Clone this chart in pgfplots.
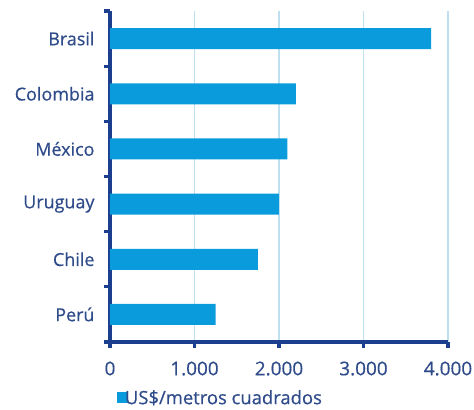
\documentclass[border=0pt]{standalone}
\usepackage{fontspec}
\setmainfont{Open Sans}[FakeBold=0.5, UprightFeatures={FakeBold=0.5}]
\usepackage{pgfplots}
\pgfplotsset{compat=1.18}
\definecolor{barblue}{HTML}{0A9BDC}
\definecolor{navy}{HTML}{1B3E8F}
\definecolor{txt}{HTML}{2F4B8A}
\definecolor{gridblue}{HTML}{BFE0EE}
\begin{document}
\begin{tikzpicture}
\useasboundingbox (-110bp,-68bp) rectangle (364bp,342bp);
\begin{axis}[
  at={(0,0)}, anchor=south west,
  scale only axis,
  width=338bp, height=331bp,
  xbar, bar width=21bp,
  xmin=0, xmax=4000,
  ymin=-0.5, ymax=5.5,
  axis x line*=bottom,
  axis y line*=left,
  xtick={0,1000,2000,3000,4000},
  ytick={-0.5,0.5,1.5,2.5,3.5,4.5,5.5},
  yticklabels={},
  extra y ticks={0,1,2,3,4,5},
  extra y tick labels={Perú,Chile,Uruguay,México,Colombia,Brasil},
  extra y tick style={major tick length=0bp, yticklabel style={xshift=-12bp}},
  major tick length=6bp,
  tick align=outside,
  xtick align=outside,
  ytick align=outside,
  tick style={draw=navy, line width=3.2bp},
  xtick style={draw=navy, line width=3.2bp},
  axis line style={draw=navy, line width=3.4bp, -},
  xmajorgrids,
  major x grid style={draw=gridblue, line width=1.2bp},
  /pgf/number format/assume math mode=true,
  /pgf/number format/1000 sep={.},
  scaled x ticks=false,
  tick label style={font=\fontsize{18}{21}\selectfont, text=txt},
  xticklabel style={yshift=-10bp, font=\fontsize{19}{22}\selectfont},
  legend style={at={(rel axis cs:0.02,0)}, anchor=north west, yshift=-46bp,
    draw=none, fill=none, font=\fontsize{18.5}{21}\selectfont, text=txt,
    inner sep=0pt},
  legend image code/.code={\fill[barblue] (0bp,-5.5bp) rectangle (11bp,5.5bp);},
  legend cell align=left,
  clip=false,
]
\addplot[fill=barblue, draw=none] coordinates {
  (1250,0) (1750,1) (2000,2) (2100,3) (2200,4) (3800,5)
};
\addlegendentry{\hspace{-5bp}US\$/metros cuadrados}
\end{axis}
\end{tikzpicture}
\end{document}
